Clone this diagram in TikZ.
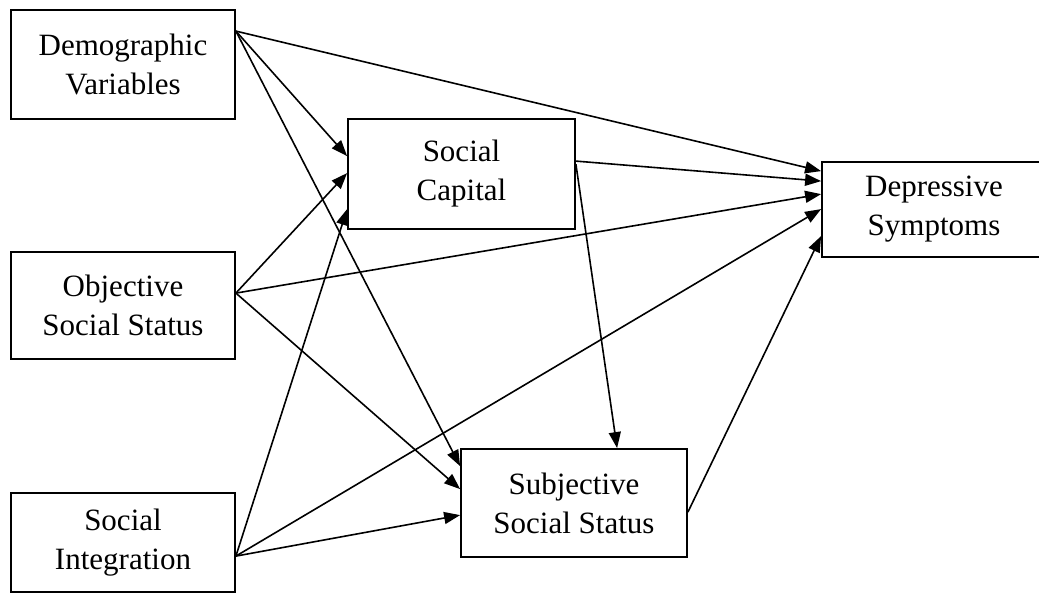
\documentclass[tikz,border=0pt]{standalone}
\usepackage{fontspec}
\setmainfont{Liberation Serif}
\usetikzlibrary{arrows.meta,calc}
\tikzset{
  box/.style={draw, line width=1.8pt, inner sep=0pt, align=center,
    font=\fontsize{31}{39}\selectfont},
  arr/.style={line width=1.6pt, -{Triangle[length=16pt,width=12pt]}}
}
\begin{document}
\begin{tikzpicture}[x=1pt,y=-1pt]
\useasboundingbox (0,0) rectangle (1039,602);
\node[box, minimum width=224pt, minimum height=109pt] (dem) at (123,64.5) {Demographic\\Variables};
\node[box, minimum width=227pt, minimum height=110pt] (cap) at (461.5,174) {Social\\Capital};
\node[box, minimum width=224pt, minimum height=95pt] (dep) at (934,209.5) {Depressive\\Symptoms};
\node[box, minimum width=224pt, minimum height=107pt] (obj) at (123,305.5) {Objective\\Social Status};
\node[box, minimum width=226pt, minimum height=108pt] (sub) at (574,503) {Subjective\\Social Status};
\node[box, minimum width=224pt, minimum height=99pt] (int) at (123,542.5) {Social\\Integration};

% sources
\coordinate (demo) at ($(dem.north east)+(0,22)$);
\coordinate (objo) at ($(obj.north east)+(0,42)$);
\coordinate (into) at ($(int.north east)+(0,64)$);
% from demographic
\draw[arr] (demo) -- ($(dep.north west)+(0,10)$);
\draw[arr] (demo) -- ($(cap.north west)+(0,38)$);
\draw[arr] (demo) -- ($(sub.north west)+(0,18)$);
% from objective
\draw[arr] (objo) -- ($(cap.north west)+(0,55)$);
\draw[arr] (objo) -- ($(dep.north west)+(0,33)$);
\draw[arr] (objo) -- ($(sub.north west)+(0,41)$);
% from integration
\draw[arr] (into) -- ($(cap.north west)+(0,91)$);
\draw[arr] (into) -- ($(dep.north west)+(0,48)$);
\draw[arr] (into) -- ($(sub.north west)+(0,67)$);
% from social capital
\draw[arr] ($(cap.north east)+(0,43)$) -- ($(dep.north west)+(0,20)$);
\draw[arr] ($(cap.north east)+(0,46)$) -- ($(sub.north west)+(157,0)$);
% from subjective
\draw[arr] ($(sub.north east)+(0,64)$) -- ($(dep.north west)+(0,75)$);
\end{tikzpicture}
\end{document}
